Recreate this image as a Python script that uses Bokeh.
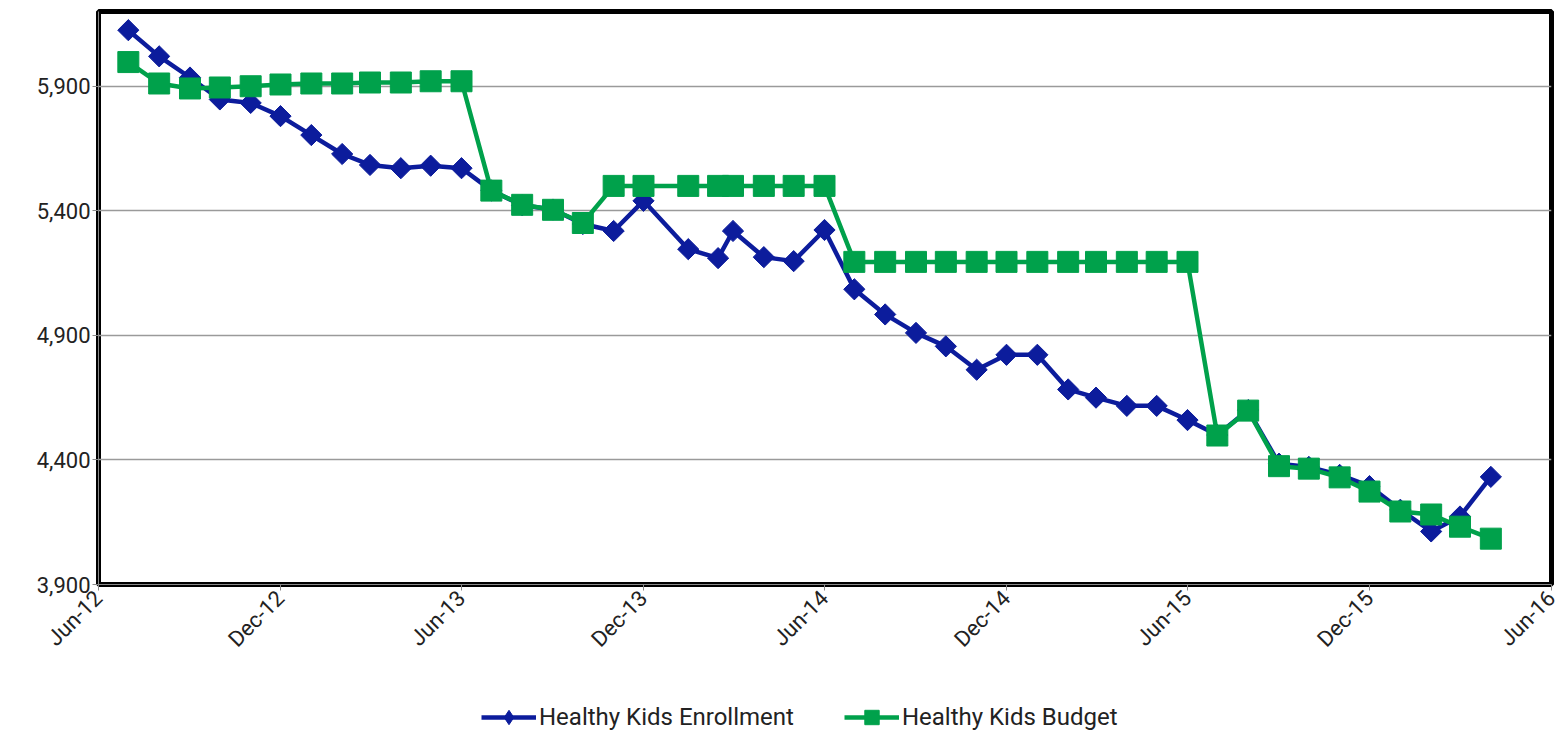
from datetime import datetime
import numpy as np
from bokeh.plotting import figure
from bokeh.layouts import column
from bokeh.models import (Range1d, FixedTicker, DatetimeTickFormatter, Legend,
                          LegendItem, NumeralTickFormatter, ColumnDataSource)
from bokeh.embed import file_html
from bokeh.resources import INLINE

# ---------------- data ----------------
dates = ["2012-07-01", "2012-08-01", "2012-09-01", "2012-10-01", "2012-11-01", "2012-12-01",
         "2013-01-01", "2013-02-01", "2013-03-01", "2013-04-01", "2013-05-01", "2013-06-01",
         "2013-07-01", "2013-08-01", "2013-09-01", "2013-10-01", "2013-11-01", "2013-12-01",
         "2014-01-15", "2014-02-14", "2014-03-01", "2014-04-01", "2014-05-01", "2014-06-01",
         "2014-07-01", "2014-08-01", "2014-09-01", "2014-10-01", "2014-11-01", "2014-12-01",
         "2015-01-01", "2015-02-01", "2015-03-01", "2015-04-01", "2015-05-01", "2015-06-01",
         "2015-07-01", "2015-08-01", "2015-09-01", "2015-10-01", "2015-11-01", "2015-12-01",
         "2016-01-01", "2016-02-01", "2016-03-01", "2016-04-01"]

enrollment = [6125, 6020, 5935, 5847, 5833, 5780,
              5704, 5628, 5584, 5571, 5581, 5571,
              5482, 5422, 5405, 5347, 5319, 5440,
              5246, 5210, 5319, 5214, 5198, 5323,
              5085, 4984, 4910, 4856, 4762, 4822,
              4822, 4683, 4650, 4617, 4617, 4560,
              4500, 4600, 4385, 4372, 4340, 4295,
              4200, 4113, 4173, 4332]

budget = [5997, 5911, 5891, 5895, 5900, 5907,
          5911, 5911, 5915, 5915, 5920, 5920,
          5481, 5424, 5404, 5351, 5500, 5500,
          5500, 5500, 5500, 5500, 5500, 5500,
          5195, 5195, 5195, 5195, 5195, 5195,
          5195, 5195, 5195, 5195, 5195, 5195,
          4498, 4598, 4375, 4365, 4330, 4273,
          4193, 4181, 4132, 4084]

y_ticks = [3900, 4400, 4900, 5400, 5900]
x_tick_dates = ["2012-06-01", "2012-12-01", "2013-06-01", "2013-12-01", "2014-06-01",
                "2014-12-01", "2015-06-01", "2015-12-01", "2016-06-01"]

series_names = ["Healthy Kids Enrollment", "Healthy Kids Budget"]
blue = "#0C1C9C"
green = "#00A14B"
FONT = "Roboto"

# ---------------- main figure ----------------
def to_dt(s):
    return datetime.strptime(s, "%Y-%m-%d")

x = [to_dt(d) for d in dates]
src = ColumnDataSource(dict(x=x, enr=enrollment, bud=budget))

p = figure(width=1568, height=680, x_axis_type="datetime",
           output_backend="svg", toolbar_location=None,
           x_range=Range1d(to_dt("2012-06-01"), to_dt("2016-06-01")),
           y_range=Range1d(3900, 6200),
           min_border_left=98, min_border_right=17, min_border_top=11,
           min_border_bottom=96)

p.background_fill_color = "white"
p.border_fill_color = "white"
p.outline_line_color = "black"
p.outline_line_width = 5

p.line("x", "enr", source=src, line_color=blue, line_width=4.5)
p.scatter("x", "enr", source=src, marker="square", angle=np.pi / 4, size=15,
          fill_color=blue, line_color=blue)
p.line("x", "bud", source=src, line_color=green, line_width=4.5)
p.scatter("x", "bud", source=src, marker="square", size=21,
          fill_color=green, line_color=green)

p.xaxis.ticker = FixedTicker(ticks=[to_dt(d).timestamp() * 1000 for d in x_tick_dates])
fmt = "%b-%y"
p.xaxis.formatter = DatetimeTickFormatter(milliseconds=fmt, seconds=fmt, minsec=fmt, minutes=fmt,
                                          hourmin=fmt, hours=fmt, days=fmt, months=fmt, years=fmt)
p.xaxis.major_label_orientation = np.pi / 4
p.yaxis.ticker = FixedTicker(ticks=y_ticks)
p.yaxis.formatter = NumeralTickFormatter(format="0,0")

for ax in (p.xaxis, p.yaxis):
    ax.major_label_text_font = FONT
    ax.major_label_text_font_size = "22px"
    ax.major_label_text_color = "#222222"
    ax.major_tick_out = 6
    ax.major_tick_in = 0
    ax.minor_tick_line_color = None
    ax.major_tick_line_color = "#888888"
    ax.axis_line_color = "#888888"
p.yaxis.major_label_standoff = 2
p.xaxis.major_label_standoff = 4

p.xgrid.grid_line_color = None
p.ygrid.grid_line_color = "#9a9a9a"
p.ygrid.grid_line_width = 1.5

# ---------------- legend strip ----------------
q = figure(width=1568, height=56, output_backend="svg", toolbar_location=None,
           x_range=Range1d(0, 1), y_range=Range1d(0, 1),
           x_axis_location=None, y_axis_location=None,
           min_border_left=0, min_border_right=0, min_border_top=0, min_border_bottom=0)
q.grid.grid_line_color = None
q.outline_line_color = None
q.background_fill_color = "white"
q.border_fill_color = "white"

off = ColumnDataSource(dict(x=[-5.0], y=[-5.0]))
ql1 = q.line("x", "y", source=off, line_color=blue, line_width=4.5)
qs1 = q.scatter("x", "y", source=off, marker="diamond", size=15,
                fill_color=blue, line_color=blue)
ql2 = q.line("x", "y", source=off, line_color=green, line_width=4.5)
qs2 = q.scatter("x", "y", source=off, marker="square", size=15,
                fill_color=green, line_color=green)

legend = Legend(items=[LegendItem(label=series_names[0], renderers=[ql1, qs1]),
                       LegendItem(label=series_names[1], renderers=[ql2, qs2])],
                orientation="horizontal", location=(383, 1),
                label_text_font=FONT, label_text_font_size="24px",
                label_text_color="#222222",
                glyph_width=55, glyph_height=36, label_standoff=3, spacing=50,
                border_line_color=None, background_fill_alpha=0, margin=0, padding=0)
q.add_layout(legend, "center")

layout = column(p, q, spacing=0)
open("out.html", "w").write(file_html(layout, INLINE))
